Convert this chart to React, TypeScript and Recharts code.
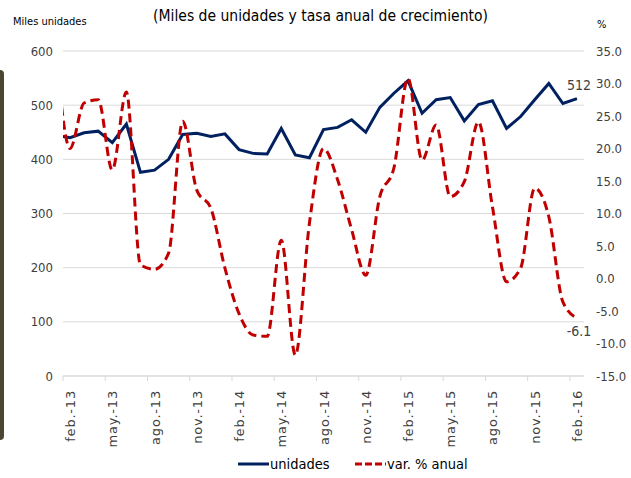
import React from 'react'
import { LineChart, Line, XAxis, YAxis, CartesianGrid, LabelList } from 'recharts'

// month labels (first one sits just outside the plot, only its line stub shows)
const months = [
  'ene.-13', 'feb.-13', 'mar.-13', 'abr.-13', 'may.-13', 'jun.-13', 'jul.-13', 'ago.-13', 'sep.-13', 'oct.-13', 'nov.-13', 'dic.-13',
  'ene.-14', 'feb.-14', 'mar.-14', 'abr.-14', 'may.-14', 'jun.-14', 'jul.-14', 'ago.-14', 'sep.-14', 'oct.-14', 'nov.-14', 'dic.-14',
  'ene.-15', 'feb.-15', 'mar.-15', 'abr.-15', 'may.-15', 'jun.-15', 'jul.-15', 'ago.-15', 'sep.-15', 'oct.-15', 'nov.-15', 'dic.-15',
  'ene.-16', 'feb.-16',
]

// miles de unidades
const unidades = [
  444, 440, 449, 452, 431, 465, 376, 380, 400, 446, 448, 442, 447,
  418, 411, 410, 457, 408, 403, 455, 459, 473, 450, 496, 522,
  545, 485, 510, 514, 471, 501, 508, 457, 479, 510, 540, 503, 512,
]

// var. % anual
const variacion = [
  35.0, 20.0, 27.0, 27.5, 16.7, 28.7, 2.1, 1.4, 3.9, 24.2, 13.6, 10.8, 1.6,
  -5.4, -8.7, -8.9, 5.9, -11.8, 8.5, 20.0, 15.2, 7.5, 0.5, 12.6, 17.0,
  30.8, 18.2, 23.6, 12.6, 14.9, 24.1, 11.0, -0.5, 1.6, 13.9, 9.5, -3.6, -6.1,
]

const leftTicks = [0, 100, 200, 300, 400, 500, 600]
const rightTicks = [-15, -10, -5, 0, 5, 10, 15, 20, 25, 30, 35]
const xTicks = [0, 3, 6, 9, 12, 15, 18, 21, 24, 27, 30, 33, 36]

const data = months.map((m, i) => ({
  idx: i - 1,
  mes: m,
  unidades: unidades[i],
  variacion: variacion[i],
}))

const W = 631
const H = 478
const PLOT_LEFT = 63
const PLOT_RIGHT = 584
const HALF_STEP = (PLOT_RIGHT - PLOT_LEFT) / 37 / 2
const NARROW = "'Liberation Sans Narrow', 'DejaVu Sans Condensed', 'Arial Narrow', sans-serif"
const TEXT = '#404040'
const BLUE = '#002060'
const RED = '#c00000'

const MonthTick = ({ x, y, payload }: any) => {
  const label = months[payload.value + 1]
  return (
    <g>
      <line x1={x - HALF_STEP} x2={x - HALF_STEP} y1={y - 9} y2={y - 4} stroke="#d9d9d9" />
      <text
        x={0}
        y={0}
        transform={`translate(${x + 5},${y + 5}) rotate(-90)`}
        textAnchor="end"
        fill={TEXT}
        fontSize={13}
        letterSpacing={0.8}
        fontFamily="'DejaVu Sans', sans-serif"
      >
        {label}
      </text>
    </g>
  )
}

const lastLabel = (above: boolean) => (props: any) => {
  const { x, y, index, value } = props
  if (index !== data.length - 1) return null
  return (
    <text
      x={x + 2}
      y={above ? y - 9 : y + 18}
      textAnchor="middle"
      fill={TEXT}
      fontSize={14}
      fontFamily={NARROW}
    >
      {above ? value : value.toFixed(1)}
    </text>
  )
}

export default function App() {
  return (
    <div style={{ position: 'absolute', left: 0, top: 0, width: W, height: H, background: '#fff', fontFamily: NARROW }}>
      <div style={{ position: 'absolute', left: 0, top: 70, width: 4, height: 370, background: '#4a4632', borderRadius: '0 4px 4px 0' }} />
      <div style={{ position: 'absolute', left: 5, width: 631, top: 7, textAlign: 'center', fontSize: 15.5, color: '#000' }}>
        (Miles de unidades y tasa anual de crecimiento)
      </div>
      <div style={{ position: 'absolute', left: 13, top: 15, fontSize: 11, color: '#000' }}>Miles unidades</div>
      <div style={{ position: 'absolute', left: 597, top: 18, fontSize: 11, color: '#000' }}>%</div>

      <LineChart width={W} height={H} data={data} margin={{ top: 51, right: 0, bottom: 0, left: 0 }}>
        <CartesianGrid yAxisId="left" vertical={false} stroke="#d9d9d9" />
        <XAxis
          dataKey="idx"
          type="number"
          domain={[-0.5, 36.5]}
          allowDataOverflow
          ticks={xTicks}
          interval={0}
          tickLine={false}
          tickSize={5}
          tickMargin={4}
          axisLine={{ stroke: '#d9d9d9' }}
          tick={<MonthTick />}
          height={102}
        />
        <YAxis
          yAxisId="left"
          domain={[0, 600]}
          ticks={leftTicks}
          width={PLOT_LEFT}
          axisLine={false}
          tickLine={false}
          tickSize={0}
          tickMargin={10}
          tick={{ fill: TEXT, fontSize: 13, fontFamily: NARROW }}
        />
        <YAxis
          yAxisId="right"
          orientation="right"
          domain={[-15, 35]}
          ticks={rightTicks}
          width={W - PLOT_RIGHT}
          axisLine={false}
          tickLine={false}
          tickSize={0}
          tickMargin={12}
          tickFormatter={(v: number) => v.toFixed(1)}
          tick={{ fill: TEXT, fontSize: 13, fontFamily: NARROW }}
        />
        <Line
          yAxisId="left"
          dataKey="unidades"
          type="linear"
          stroke={BLUE}
          strokeWidth={3}
          dot={false}
          isAnimationActive={false}
        >
          <LabelList dataKey="unidades" content={lastLabel(true)} />
        </Line>
        <Line
          yAxisId="right"
          dataKey="variacion"
          type="monotone"
          stroke={RED}
          strokeWidth={3}
          strokeDasharray="9 5"
          dot={false}
          isAnimationActive={false}
        >
          <LabelList dataKey="variacion" content={lastLabel(false)} />
        </Line>
      </LineChart>

      <div style={{ position: 'absolute', left: 238, top: 456, display: 'flex', alignItems: 'center', fontSize: 14.5, color: '#000' }}>
        <svg width={31} height={10}>
          <line x1={0} x2={31} y1={5} y2={5} stroke={BLUE} strokeWidth={3} />
        </svg>
        <span style={{ marginLeft: 1, width: 85 }}>unidades</span>
        <svg width={31} height={10}>
          <line x1={0} x2={31} y1={5} y2={5} stroke={RED} strokeWidth={3} strokeDasharray="7 3" />
        </svg>
        <span style={{ marginLeft: 1 }}>var. % anual</span>
      </div>
    </div>
  )
}
